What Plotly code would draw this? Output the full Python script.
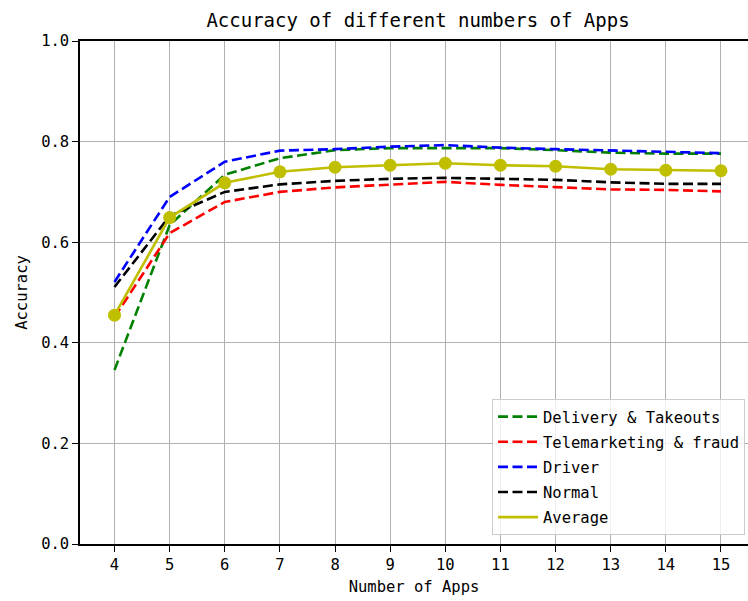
import plotly.graph_objects as go

# Number of apps used per sample
num_apps = [4, 5, 6, 7, 8, 9, 10, 11, 12, 13, 14, 15]

# Accuracy per category
delivery = [0.346, 0.634, 0.734, 0.767, 0.783, 0.787, 0.787, 0.787, 0.783, 0.778, 0.776, 0.776]
telemarketing = [0.451, 0.618, 0.680, 0.700, 0.709, 0.714, 0.720, 0.714, 0.709, 0.705, 0.704, 0.701]
driver = [0.521, 0.690, 0.760, 0.782, 0.785, 0.790, 0.793, 0.788, 0.785, 0.782, 0.779, 0.777]
normal = [0.511, 0.652, 0.700, 0.715, 0.722, 0.726, 0.728, 0.726, 0.724, 0.719, 0.716, 0.716]
average = [0.455, 0.649, 0.718, 0.740, 0.749, 0.753, 0.757, 0.753, 0.751, 0.745, 0.743, 0.742]

y_ticks = [0.0, 0.2, 0.4, 0.6, 0.8, 1.0]

FONT = "DejaVu Sans Mono"
W, H = 748, 601
L, R, T, B = 80, 0, 41, 57

series = [
    ("Delivery & Takeouts", delivery, "#008000", "10px,4.5px", False),
    ("Telemarketing & fraud", telemarketing, "#ff0000", "10px,4.5px", False),
    ("Driver", driver, "#0000ff", "10px,4.5px", False),
    ("Normal", normal, "#000000", "10px,4.5px", False),
    ("Average", average, "#bfbf00", "solid", True),
]

fig = go.Figure()
for i, (name, vals, color, dash, markers) in enumerate(series):
    fig.add_trace(go.Scatter(
        x=num_apps, y=vals, name=name,
        mode="lines+markers" if markers else "lines",
        line=dict(color=color, width=2.6, dash=dash),
        marker=dict(size=13, color=color) if markers else None,
        legendgroup=f"g{i}",
    ))

# legend entries show the line sample only
fig.update_traces(selector=dict(name="Average"), showlegend=False)
fig.add_trace(go.Scatter(
    x=[None], y=[None], name="Average", mode="lines",
    line=dict(color="#bfbf00", width=2.6), legendgroup="g4",
))

plot_w = W - L - R
fig.update_layout(
    width=W, height=H,
    margin=dict(l=L, r=R, t=T, b=B),
    paper_bgcolor="white", plot_bgcolor="white",
    font=dict(family=FONT, size=15.5, color="black"),
    title=dict(
        text="Accuracy of different numbers of Apps",
        font=dict(family=FONT, size=19, color="black"),
        x=(418 - L) / plot_w, xref="paper", xanchor="center",
        y=1 - 20 / H, yanchor="middle",
    ),
    showlegend=True,
    legend=dict(
        x=(745 - L) / plot_w, xanchor="right",
        y=(544 - 535) / (H - T - B), yanchor="bottom",
        bgcolor="rgba(255,255,255,0.8)",
        bordercolor="#cccccc", borderwidth=1,
        font=dict(family=FONT, size=15.5, color="black"),
        tracegroupgap=2,
        itemwidth=40,
    ),
    xaxis=dict(
        range=[3.374, 15.49],
        tickvals=num_apps, ticktext=[str(v) for v in num_apps],
        ticks="outside", ticklen=6, tickwidth=1.4, tickcolor="black",
        showline=True, linecolor="black", linewidth=1.5, mirror=True,
        showgrid=True, gridcolor="#b0b0b0", gridwidth=1.4,
        zeroline=False,
        title=dict(text="Number of Apps", standoff=8,
                   font=dict(family=FONT, size=15.5)),
    ),
    yaxis=dict(
        range=[0, 1],
        tickvals=y_ticks, tickformat=".1f",
        ticks="outside", ticklen=6, tickwidth=1.4, tickcolor="black",
        showline=True, linecolor="black", linewidth=1.5, mirror=False,
        showgrid=True, gridcolor="#b0b0b0", gridwidth=1.4,
        zeroline=False,
        title=dict(text="Accuracy", standoff=10,
                   font=dict(family=FONT, size=15.5)),
    ),
)

fig.write_html("out.html")
